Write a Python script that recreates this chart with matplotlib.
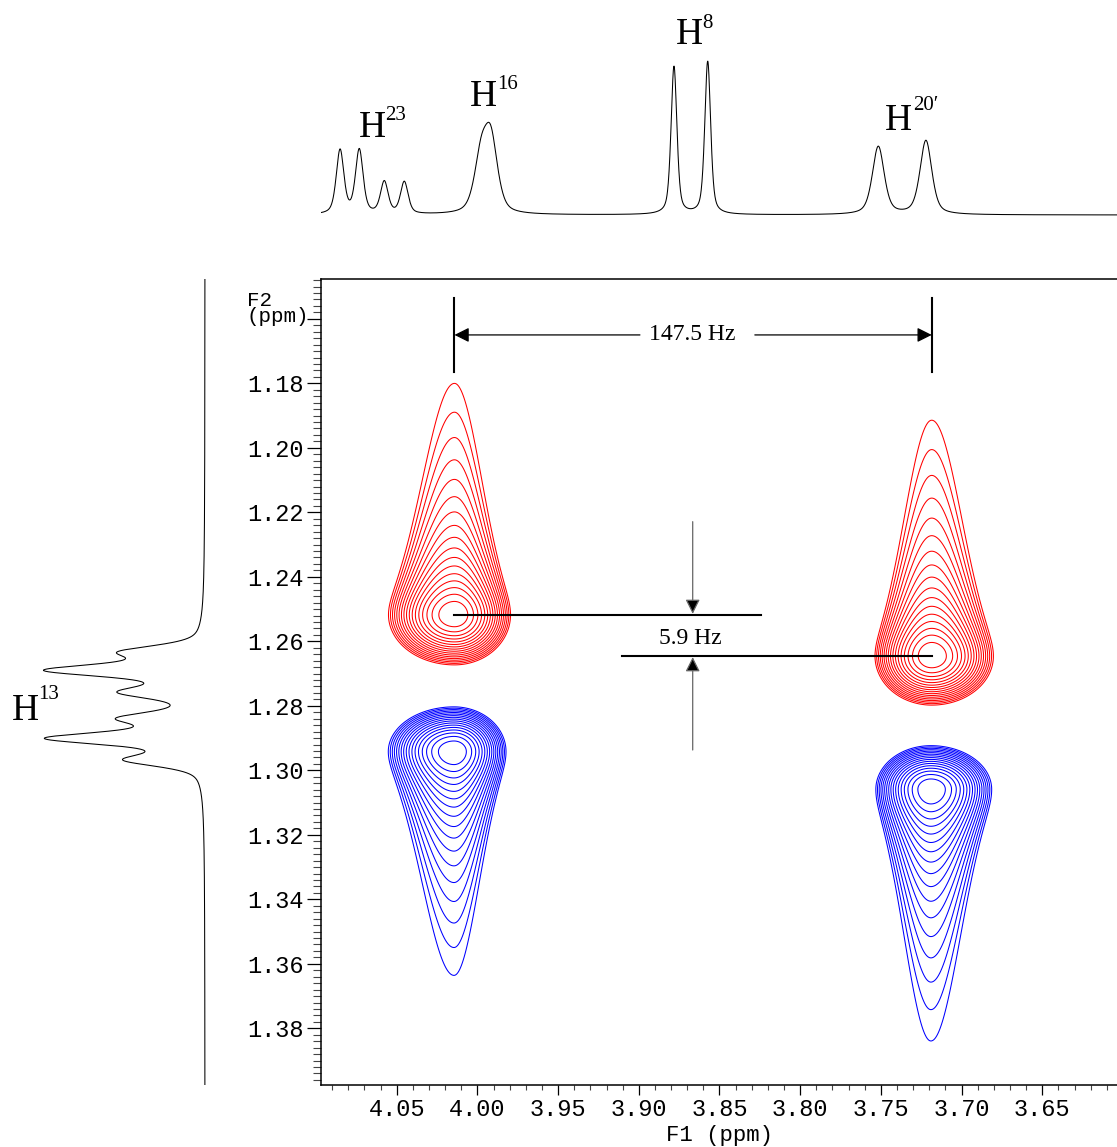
import numpy as np
import matplotlib
matplotlib.use("Agg")
import matplotlib.pyplot as plt
from matplotlib.ticker import MultipleLocator, FixedLocator, FixedFormatter

# ---------------- data ----------------
# top projection (F1): line positions (ppm), heights (a.u.), FWHM (ppm)
top_pos = [4.0851, 4.0732, 4.0577, 4.0453, 3.9978, 3.9916, 3.8782, 3.8573, 3.7516, 3.7221]
top_height = [64, 64, 32, 32, 52, 70, 148, 153, 68, 74]
top_fwhm = [0.0056, 0.0056, 0.0056, 0.0056, 0.0099, 0.0099, 0.0043, 0.0043, 0.0087, 0.0087]

# left projection (F2): line positions (ppm), heights (a.u.), FWHM (ppm)
left_pos = [1.2633, 1.2690, 1.2758, 1.2839, 1.2901, 1.2968]
left_height = [74, 150, 74, 74, 150, 72]
left_fwhm = [0.0046, 0.0046, 0.0046, 0.0046, 0.0046, 0.0046]

# 2D cross peaks: centre F1, centre F2, widths, sign (+1 red, -1 blue)
pk_f1 = [4.0142, 3.7185, 4.0145, 3.7190]
pk_f2 = [1.2518, 1.2646, 1.2942, 1.3059]
pk_sx_left = [0.01371, 0.01178, 0.01365, 0.01144]    # toward higher ppm
pk_sx_right = [0.01164, 0.01281, 0.01080, 0.01262]
pk_tail = [0.00781, 0.00796, 0.00755, 0.00849]        # Lorentzian tail width
pk_core = [0.00520, 0.00509, 0.00465, 0.00454]        # gaussian compact side
pk_sign = [1, 1, -1, -1]
level_min = 0.0117
level_factor = 1.3
n_levels = 17

# annotations
J_big_label = "147.5 Hz"
J_small_label = "5.9 Hz"
peak_labels = [("23", 359.3, 136.7, 385.0, 120.0),
               ("16", 470.0, 106.0, 496.7, 89.0),
               ("8", 676.0, 44.0, 702.0, 28.0),
               ("20\u2032", 885.0, 130.0, 913.0, 110.5),
               ("13", 11.7, 720.0, 37.7, 699.0)]

# ---------------- figure ----------------
W, H = 1117, 1147
fig = plt.figure(figsize=(W / 100, H / 100), dpi=100)

def fx(x):
    return x / W

def fy(y):
    return 1 - y / H

X_LIM = (4.0971, 3.6037)
Y_LIM = (1.39758, 1.14775)

ax = fig.add_axes([fx(320.7), fy(1085), (1117 - 320.7) / W, (1085 - 279.3) / H])
ax.set_xlim(*X_LIM)
ax.set_ylim(*Y_LIM)

def pvoigt(x, c, h, w, eta=0.5):
    g = np.exp(-4 * np.log(2) * ((x - c) / w) ** 2)
    l = 1 / (1 + 4 * ((x - c) / w) ** 2)
    return h * (eta * l + (1 - eta) * g)

# 2D contours
xg = np.linspace(4.10, 3.60, 900)
yg = np.linspace(1.14, 1.40, 1100)
XX, YY = np.meshgrid(xg, yg)
levels = [level_min * level_factor ** k for k in range(n_levels)]
for i in range(len(pk_f1)):
    dx = XX - pk_f1[i]
    sx = np.where(dx > 0, pk_sx_left[i], pk_sx_right[i])
    gx = np.exp(-0.5 * (dx / sx) ** 2)
    # tail side: red tails toward smaller F2 (up), blue toward larger F2 (down)
    d = (YY - pk_f2[i]) * (-pk_sign[i])
    ty = np.where(d > 0, 1 / (1 + (d / pk_tail[i]) ** 2),
                  np.exp(-0.5 * (d / pk_core[i]) ** 2))
    Z = gx * ty
    col = "#ff0000" if pk_sign[i] > 0 else "#0000ff"
    ax.contour(XX, YY, Z, levels=levels, colors=col, linewidths=0.75)

# ticks
ax.xaxis.set_major_locator(MultipleLocator(0.05))
ax.xaxis.set_minor_locator(MultipleLocator(0.01))
ax.xaxis.set_major_formatter(matplotlib.ticker.FormatStrFormatter("%.2f"))
yt = [1.16 + 0.02 * k for k in range(12)]
ax.yaxis.set_major_locator(FixedLocator(yt))
ax.yaxis.set_major_formatter(FixedFormatter([""] + ["%.2f" % v for v in yt[1:]]))
ax.yaxis.set_minor_locator(MultipleLocator(0.002))
mono = "Liberation Mono"
serif = "Liberation Serif"
ax.tick_params(axis="x", which="major", direction="out", length=7.2, width=0.9,
               labelsize=17, pad=2)
ax.tick_params(axis="x", which="minor", direction="out", length=3.6, width=0.8, color="#444")
ax.tick_params(axis="y", which="major", direction="out", length=10, width=0.9,
               labelsize=17, pad=2)
ax.tick_params(axis="y", which="minor", direction="out", length=5.8, width=0.8, color="#444")
for lab in ax.get_xticklabels() + ax.get_yticklabels():
    lab.set_family(mono)
ax.spines["right"].set_visible(False)
for s in ("left", "bottom", "top"):
    ax.spines[s].set_linewidth(1.1)

fig.text(fx(247), fy(291), "F2\n(ppm)", family=mono, fontsize=15,
         ha="left", va="top", linespacing=0.78)
fig.text(fx(719), fy(1135), "F1 (ppm)", family=mono, fontsize=16,
         ha="center", va="center")

# dimension: 147.5 Hz
xa, xb = pk_f1[0], pk_f1[1]
for xv in (xa, xb):
    ax.plot([xv, xv], [1.1535, 1.1765], color="black", lw=1.5)
ymid = 1.1650
ax.annotate("", xy=(xa, ymid), xytext=(3.8993, ymid),
            arrowprops=dict(arrowstyle="-|>", color="black", lw=0.9, mutation_scale=22,
                            shrinkA=0, shrinkB=0))
ax.annotate("", xy=(xb, ymid), xytext=(3.8281, ymid),
            arrowprops=dict(arrowstyle="-|>", color="black", lw=0.9, mutation_scale=22,
                            shrinkA=0, shrinkB=0))
ax.text(3.8671, ymid, J_big_label, family=serif, fontsize=17, ha="center", va="center")

# dimension: 5.9 Hz
ax.plot([pk_f1[0], 3.8243], [pk_f2[0], pk_f2[0]], color="black", lw=1.5)
ax.plot([3.9102, pk_f1[1]], [pk_f2[1], pk_f2[1]], color="black", lw=1.5)
xv = 3.8666
ax.annotate("", xy=(xv, pk_f2[0] - 0.0003), xytext=(xv, 1.2229),
            arrowprops=dict(arrowstyle="-|>", edgecolor="#666", facecolor="black", lw=0.9,
                            mutation_scale=22, shrinkA=0, shrinkB=0))
ax.annotate("", xy=(xv, pk_f2[1] + 0.0003), xytext=(xv, 1.2937),
            arrowprops=dict(arrowstyle="-|>", edgecolor="#666", facecolor="black", lw=0.9,
                            mutation_scale=22, shrinkA=0, shrinkB=0))
ax.text(3.8681, 1.2592, J_small_label, family=serif, fontsize=17, ha="center", va="center")

# top projection
axt = fig.add_axes([fx(320.7), fy(230), (1117 - 320.7) / W, 220 / H])
xs = np.linspace(X_LIM[0], X_LIM[1], 3000)
ys = np.zeros_like(xs)
for c, h, w in zip(top_pos, top_height, top_fwhm):
    ys += pvoigt(xs, c, h, w)
axt.plot(xs, ys, color="black", lw=0.75)
axt.set_xlim(*X_LIM)
axt.set_ylim(-15, 205)
axt.axis("off")

# left projection
axl = fig.add_axes([0, fy(1085), 215 / W, (1085 - 279.3) / H])
yl = np.linspace(Y_LIM[1], Y_LIM[0], 3000)
il = np.zeros_like(yl)
for c, h, w in zip(left_pos, left_height, left_fwhm):
    il += pvoigt(yl, c, h, w)
axl.plot(il, yl, color="black", lw=0.75)
axl.set_ylim(*Y_LIM)
axl.set_xlim(205, -10)
axl.axis("off")

# peak labels
for sup, hx, hy, sx_, sy_ in peak_labels:
    fig.text(fx(hx), fy(hy), "H", family=serif, fontsize=27, ha="left", va="baseline")
    fig.text(fx(sx_), fy(sy_), sup, family=serif, fontsize=15, ha="left", va="baseline")

fig.savefig("out.png", dpi=100)
